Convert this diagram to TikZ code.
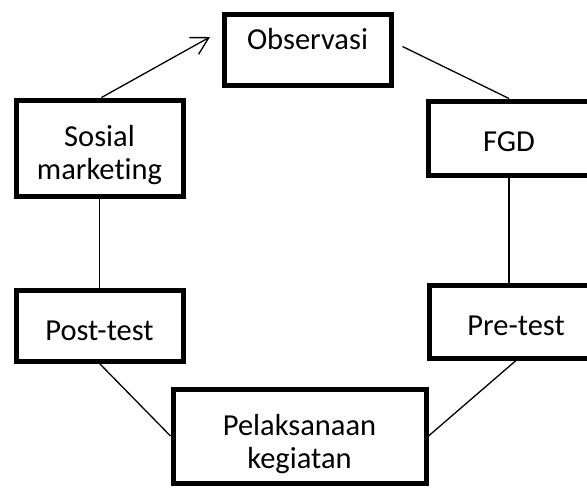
\documentclass[tikz,border=0pt]{standalone}
\usepackage{fontspec}
\setmainfont{Carlito}[Ligatures=NoCommon]
\usetikzlibrary{arrows.meta}

\begin{document}
\begin{tikzpicture}[x=1pt, y=-1pt,
  stage/.style={draw=black, line width=5pt, inner sep=0pt, align=center,
    font=\fontsize{30.5}{33}\selectfont},
  link/.style={draw=black, line width=1.3pt}]
\useasboundingbox (0,0) rectangle (587,488);

\node[stage, minimum width=167pt, minimum height=71pt, text height=18pt, text depth=18pt] (obs) at (307.5,49.5) {Observasi};
\node[stage, minimum width=162pt, minimum height=74pt, text height=26pt, text depth=0pt] (fgd) at (509,138) {FGD};
\node[stage, minimum width=174pt, minimum height=73pt, text height=27pt, text depth=0pt] (pre) at (516,321.5) {Pre-test};
\node[stage, minimum width=253pt, minimum height=94pt, text height=64pt, text depth=0pt] (pel) at (299.5,436) {Pelaksanaan\\kegiatan};
\node[stage, minimum width=167pt, minimum height=71pt, text height=29pt, text depth=0pt] (post) at (99.5,325.5) {Post-test};
\node[stage, minimum width=167pt, minimum height=96pt, text height=62pt, text depth=0pt] (sos) at (99.5,148) {Sosial\\marketing};

\coordinate (tip) at (210,37);

\draw[link, -{Straight Barb[length=17pt, width=19pt]}] ([xshift=2pt]sos.north) -- (tip);
\draw[link] ([xshift=9pt, yshift=3pt]obs.east) -- (fgd.north);
\draw[link] (fgd.south) -- (fgd.south |- pre.north);
\draw[link] (pre.south) -- (pel.east);
\draw[link] (pel.west) -- (post.south);
\draw[link] (post.north) -- (sos.south);
\end{tikzpicture}
\end{document}
